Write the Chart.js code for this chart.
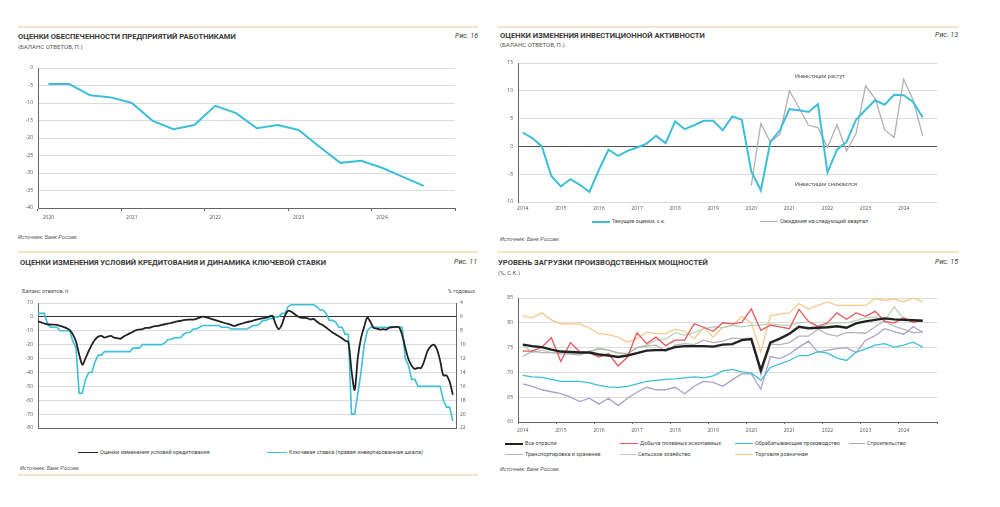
<!DOCTYPE html>
<html>
<head>
<meta charset="utf-8">
<script src="https://cdn.jsdelivr.net/npm/chart.js@4.4.1/dist/chart.umd.min.js"></script>
<style>
  body { margin: 0; background: #fff; width: 1000px; height: 507px; position: relative; overflow: hidden; font-family: Roboto, "Open Sans", sans-serif; color: #333; }
  .t { position: absolute; white-space: nowrap; line-height: 1; }
  .sep { position: absolute; height: 2px; background: #f3e6c2; }
  .title { font-size: 7.6px; font-weight: 700; color: #3a3a3a; }
  .sub { font-size: 6px; color: #555; }
  .fig { font-size: 7px; font-style: italic; color: #444; }
  .src { font-size: 5.5px; font-style: italic; color: #555; }
  .small { font-size: 5.5px; color: #555; }
  .leg { position: absolute; display: flex; align-items: center; font-size: 5.5px; color: #444; white-space: nowrap; line-height: 1; }
  .leg i { display: inline-block; width: 18px; margin-right: 2px; }
  canvas { position: absolute; }
</style>
</head>
<body>

<!-- separators -->
<div class="sep" style="left:18px;top:26px;width:460px"></div>
<div class="sep" style="left:497px;top:26px;width:462px"></div>
<div class="sep" style="left:18px;top:251px;width:460px"></div>
<div class="sep" style="left:497px;top:251px;width:462px"></div>
<div class="sep" style="left:18px;top:474px;width:460px"></div>

<!-- top left -->
<div class="t title" style="left:18px;top:33px">ОЦЕНКИ ОБЕСПЕЧЕННОСТИ ПРЕДПРИЯТИЙ РАБОТНИКАМИ</div>
<div class="t sub" style="left:18px;top:44px">(БАЛАНС ОТВЕТОВ, П.)</div>
<div class="t fig" style="right:522px;top:33px">Рис. 16</div>
<canvas id="c1" width="455" height="166" style="left:10px;top:60px"></canvas>
<div class="t src" style="left:18px;top:235px">Источник: Банк России.</div>

<!-- top right -->
<div class="t title" style="left:500px;top:32px">ОЦЕНКИ ИЗМЕНЕНИЯ ИНВЕСТИЦИОННОЙ АКТИВНОСТИ</div>
<div class="t sub" style="left:500px;top:42px">(БАЛАНС ОТВЕТОВ, П.)</div>
<div class="t fig" style="right:42px;top:32px">Рис. 13</div>
<canvas id="c2" width="457" height="163" style="left:490px;top:55px"></canvas>
<div class="t small" style="left:795px;top:74px">Инвестиции растут</div>
<div class="t small" style="left:795px;top:182px">Инвестиции снижаются</div>
<div class="leg" style="left:592px;top:219px"><i style="border-top:2px solid #3dbfd9"></i>Текущие оценки, с.к.</div>
<div class="leg" style="left:760px;top:219px"><i style="border-top:1.5px solid #b0b0b0"></i>Ожидания на следующий квартал</div>
<div class="t src" style="left:500px;top:237px">Источник: Банк России.</div>

<!-- bottom left -->
<div class="t title" style="left:20px;top:259px">ОЦЕНКИ ИЗМЕНЕНИЯ УСЛОВИЙ КРЕДИТОВАНИЯ И ДИНАМИКА КЛЮЧЕВОЙ СТАВКИ</div>
<div class="t fig" style="right:523px;top:259px">Рис. 11</div>
<div class="t small" style="left:22px;top:289px">Баланс ответов, п.</div>
<div class="t small" style="right:525px;top:289px">% годовых</div>
<canvas id="c3" width="475" height="146" style="left:10px;top:295px"></canvas>
<div class="leg" style="left:78px;top:450px"><i style="width:20px;border-top:1.8px solid #222"></i>Оценки изменения условий кредитования</div>
<div class="leg" style="left:267px;top:450px"><i style="width:20px;border-top:1.8px solid #3dbfd9"></i>Ключевая ставка (правая инвертированная шкала)</div>
<div class="t src" style="left:20px;top:466px">Источник: Банк России.</div>

<!-- bottom right -->
<div class="t title" style="left:498px;top:259px">УРОВЕНЬ ЗАГРУЗКИ ПРОИЗВОДСТВЕННЫХ МОЩНОСТЕЙ</div>
<div class="t sub" style="left:498px;top:270px">(%, С.К.)</div>
<div class="t fig" style="right:42px;top:259px">Рис. 15</div>
<canvas id="c4" width="457" height="146" style="left:490px;top:290px"></canvas>
<div class="leg" style="left:505px;top:441px"><i style="border-top:2.5px solid #222"></i>Все отрасли</div>
<div class="leg" style="left:620px;top:441px"><i style="border-top:1.5px solid #e8585f"></i>Добыча полезных ископаемых</div>
<div class="leg" style="left:735px;top:441px"><i style="border-top:1.5px solid #3dbfd9"></i>Обрабатывающие производство</div>
<div class="leg" style="left:849px;top:441px"><i style="width:16px;border-top:1.5px solid #a9a1c9"></i>Строительство</div>
<div class="leg" style="left:505px;top:452px"><i style="border-top:1.5px solid #b4b4b4"></i>Транспортировка и хранение</div>
<div class="leg" style="left:620px;top:452px"><i style="width:16px;border-top:1.5px solid #b8d3b5"></i>Сельское хозяйство</div>
<div class="leg" style="left:735px;top:452px"><i style="border-top:1.5px solid #f6c98b"></i>Торговля розничная</div>
<div class="t src" style="left:500px;top:467px">Источник: Банк России.</div>

<script>
// --- data ---
const years1 = ['2020', '2021', '2022', '2023', '2024'];
const staffing = [-4.6, -4.6, -7.8, -8.4, -10.0, -15.1, -17.5, -16.3, -10.8, -12.9, -17.2, -16.3, -17.7, -22.5, -27.1, -26.5, -28.5, -31.1, -33.7, null];

const years2 = ['2014', '2015', '2016', '2017', '2018', '2019', '2020', '2021', '2022', '2023', '2024'];
const invCurrent = [2.5, 1.5, 0, -5.3, -7.2, -5.9, -6.9, -8.2, -4.2, -0.6, -1.7, -0.8, -0.2, 0.5, 1.9, 0.6,
  4.5, 3.1, 3.8, 4.6, 4.6, 2.9, 5.4, 4.8, -4.5, -7.9, 0.8, 2.9, 6.7, 6.5, 6.2, 7.6,
  -4.7, -0.6, 0.8, 4.8, 6.6, 8.3, 7.5, 9.3, 9.2, 8.0, 5.2, null];
const invExpected = [null, null, null, null, null, null, null, null, null, null, null, null,
  null, null, null, null, null, null, null, null, null, null, null, null,
  -7.0, 4.1, 0.8, 2.2, 10.0, 7.0, 3.8, 3.4, -0.2, 3.9, -0.8, 2.3, 10.9, 8.6, 3.0, 1.6, 12.1, 8.3, 1.9, null];

const creditConditions = [-3.3, -4.0, -4.7, -5.3, -5.6, -5.6, -5.8, -6.5, -7.2, -8.1, -9.5, -12.6, -17.7,
  -27.0, -34.4, -29.8, -24.7, -20.0, -16.5, -14.2, -13.7, -14.9, -14.2, -13.7, -14.9,
  -15.3, -15.8, -14.2, -13.0, -11.9, -10.7, -9.5, -9.1, -8.8, -7.9, -7.9, -7.2,
  -6.7, -6.5, -5.8, -5.3, -4.9, -4.4, -3.7, -3.3, -2.8, -2.3, -2.1, -1.9,
  -1.9, -1.4, -0.5, 0.2, -0.2, -0.9, -1.6, -2.3, -3.0, -3.7, -4.4, -5.1,
  -5.8, -6.5, -5.8, -5.1, -4.4, -3.7, -3.3, -2.6, -1.9, -1.4, -0.9, -0.5,
  0.2, 0.9, -4.9, -8.8, -5.6, 0.9, 4.4, 3.7, 2.1, 0.5, -0.5, -0.7,
  -0.9, -1.9, -1.4, -3.3, -4.9, -6.0, -7.7, -9.5, -11.2, -12.6, -14.0, -15.3,
  -17.2, -18.1, -38.6, -52.6, -29.3, -15.3, -7.2, -0.5, -3.7, -7.9, -8.4, -9.1,
  -8.8, -9.1, -7.7, -7.4, -7.2, -7.4, -13.0, -22.3, -30.5, -35.1, -37.4, -36.7,
  -36.7, -31.6, -24.7, -21.2, -20.0, -23.5, -31.6, -42.1, -42.1, -46.7, -56.0, null];
const keyRate = [5.5, 5.5, 5.5, 7.0, 7.5, 7.5, 7.5, 8.0, 8.0, 8.0, 8.0, 9.5, 10.5,
  17, 17, 15, 14, 14, 12.5, 11.5, 11.5, 11, 11, 11, 11,
  11, 11, 11, 11, 11, 10.5, 10.5, 10.5, 10, 10, 10, 10,
  10, 10, 10, 9.75, 9.25, 9.25, 9, 9, 9, 8.5, 8.25, 8.25,
  7.75, 7.75, 7.5, 7.25, 7.25, 7.25, 7.25, 7.25, 7.25, 7.5, 7.5, 7.5,
  7.75, 7.75, 7.75, 7.75, 7.75, 7.75, 7.5, 7.25, 7.25, 7.0, 6.5, 6.5,
  6.25, 6.25, 6.0, 6.0, 5.5, 5.5, 4.5, 4.25, 4.25, 4.25, 4.25, 4.25,
  4.25, 4.25, 4.25, 4.5, 5.0, 5.0, 5.5, 6.5, 6.5, 6.75, 7.5, 7.5,
  8.5, 8.5, 20, 20, 17, 14, 10, 8, 7.5, 7.5, 7.5, 7.5,
  7.5, 7.5, 7.5, 7.5, 7.5, 7.5, 7.5, 12, 13, 15, 15, 16,
  16, 16, 16, 16, 16, 16, 16, 18, 19, 19, 21, null];

const allIndustries = [75.6, 75.3, 75.1, 74.6, 74.2, 74.1, 74.0, 74.0, 73.6, 73.4, 73.1, 73.4, 73.9, 74.4, 74.5,
  74.5, 75.1, 75.3, 75.3, 75.3, 75.2, 75.6, 75.7, 76.5, 76.7, 70.4, 76.0, 76.8, 77.8, 79.2,
  78.9, 79.0, 79.1, 79.3, 79.0, 79.9, 80.3, 80.6, 80.9, 80.7, 80.6, 80.5, 80.4, null];
const mining = [74.3, 74.3, 75.1, 77.0, 72.2, 76.0, 74.1, 74.0, 73.1, 73.8, 71.3, 73.1, 78.0, 75.8, 77.1,
  75.4, 76.5, 76.5, 79.8, 79.1, 78.3, 80.0, 79.8, 80.1, 82.8, 78.5, 79.5, 79.2, 78.8, 82.7,
  80.3, 79.3, 80.0, 82.0, 80.7, 82.0, 81.3, 82.3, 80.3, 80.0, 81.0, 80.1, 80.5, null];
const manufacturing = [69.4, 69.1, 69.0, 68.6, 68.2, 68.2, 68.2, 67.9, 67.4, 67.1, 67.0, 67.2, 67.7, 68.2, 68.4,
  68.6, 68.7, 68.9, 69.1, 68.9, 69.3, 70.3, 70.6, 70.1, 69.9, 68.4, 71.0, 71.7, 72.4, 73.4,
  73.4, 74.2, 73.9, 72.9, 72.4, 74.1, 74.7, 75.5, 75.8, 75.1, 75.5, 76.1, 75.1, null];
const construction = [67.7, 67.2, 66.5, 66.1, 65.7, 65.0, 64.1, 64.8, 63.6, 64.8, 63.3, 64.8, 66.0, 67.0, 66.5,
  66.5, 67.0, 65.7, 67.2, 68.2, 68.0, 67.2, 68.5, 69.7, 69.7, 66.6, 73.2, 72.8, 73.7, 75.1,
  76.3, 74.1, 74.5, 74.8, 75.0, 74.0, 76.5, 77.4, 78.8, 78.2, 77.7, 79.2, 78.1, null];
const transport = [73.2, 74.3, 74.0, 74.0, 73.8, 73.7, 73.5, 74.3, 74.7, 74.5, 74.0, 73.8, 75.0, 75.3, 75.5,
  74.2, 75.5, 75.8, 75.6, 76.5, 76.0, 76.3, 76.9, 76.8, 76.9, 69.5, 75.7, 75.6, 76.0, 77.3,
  77.3, 78.7, 77.7, 77.3, 78.0, 78.0, 77.9, 79.2, 80.4, 79.3, 78.7, 78.0, 78.1, null];
const agriculture = [75.5, 74.0, 74.5, 74.0, 74.0, 74.0, 73.8, 74.0, 75.0, 74.5, 73.8, 73.8, 75.0, 75.5, 76.5,
  76.7, 78.0, 77.5, 78.0, 78.8, 79.2, 79.0, 79.5, 79.2, 79.5, 79.6, 79.8, 79.6, 79.5, 80.0,
  80.2, 79.0, 79.8, 80.0, 80.0, 80.5, 81.0, 81.2, 80.5, 83.2, 80.8, 80.5, 80.5, null];
const retail = [81.4, 81.0, 82.0, 80.6, 79.8, 79.8, 79.8, 78.9, 77.8, 77.6, 77.1, 76.1, 76.8, 78.1, 77.8,
  77.8, 78.7, 78.3, 76.8, 79.1, 77.1, 79.1, 79.4, 81.3, 80.0, 74.1, 81.4, 81.8, 82.0, 83.9,
  82.8, 83.5, 84.2, 83.5, 83.5, 83.5, 83.5, 84.9, 84.5, 84.8, 84.2, 85.0, 84.2, null];

// --- helpers ---
const CYAN = '#3dbfd9', GRID = '#dcdcdc', AXIS = '#666', TICK = '#555';
const tickFont = { family: 'Open Sans', size: 5 };

const quarters = years => years.flatMap(y => [y + ' Q1', y + ' Q2', y + ' Q3', y + ' Q4']);
const labels1 = quarters(years1);
const labels2 = quarters(years2);
const labels3 = ['2013-12'];
years2.forEach(y => { for (let m = 1; m <= 12; m++) labels3.push(y + '-' + String(m).padStart(2, '0')); });

function quarterAxis(height, tickLen) {
  return {
    type: 'category', offset: true,
    afterFit(s) { s.height = height; },
    grid: {
      offset: true, drawOnChartArea: false, drawTicks: tickLen > 0, tickLength: tickLen,
      color: c => (c.index === undefined || c.index % 4 === 0) ? AXIS : 'rgba(0,0,0,0)'
    },
    border: { color: AXIS },
    ticks: {
      autoSkip: false, maxRotation: 0, padding: 4, color: TICK, font: tickFont,
      callback(v, i) { return i % 4 === 0 ? this.getLabelForValue(v).slice(0, 4) : ''; }
    }
  };
}

function valueAxis(min, max, step, width, zeroColor) {
  return {
    min: min, max: max,
    afterFit(s) { s.width = width; },
    grid: { drawTicks: false, color: c => (zeroColor && c.tick.value === 0) ? zeroColor : GRID },
    border: { color: AXIS },
    ticks: { stepSize: step, padding: 5, color: TICK, font: tickFont }
  };
}

function line(data, color, width, extra) {
  return Object.assign({ data: data, borderColor: color, borderWidth: width, pointRadius: 0, tension: 0, fill: false, spanGaps: false }, extra || {});
}

const base = {
  responsive: false, animation: false,
  plugins: { legend: { display: false }, tooltip: { enabled: false } }
};

// --- fig 16 ---
new Chart(document.getElementById('c1'), {
  type: 'line',
  data: { labels: labels1, datasets: [line(staffing, CYAN, 2)] },
  options: Object.assign({}, base, {
    layout: { padding: { top: 8, right: 10, left: 0, bottom: 0 } },
    scales: { x: quarterAxis(18, 3), y: valueAxis(-40, 0, 5, 28) }
  })
});

// --- fig 13 ---
const x2 = quarterAxis(16, 0);
x2.border = { display: false };
const y2 = valueAxis(-10, 15, 5, 28, '#555');
new Chart(document.getElementById('c2'), {
  type: 'line',
  data: { labels: labels2, datasets: [line(invCurrent, CYAN, 2), line(invExpected, '#b0b0b0', 1.3)] },
  options: Object.assign({}, base, {
    layout: { padding: { top: 8, right: 10, left: 0, bottom: 0 } },
    scales: { x: x2, y: y2 }
  })
});

// --- fig 11 ---
new Chart(document.getElementById('c3'), {
  type: 'line',
  data: {
    labels: labels3,
    datasets: [
      line(creditConditions, '#222', 1.8, { tension: 0.3, yAxisID: 'y' }),
      line(keyRate, CYAN, 1.6, { yAxisID: 'y1' })
    ]
  },
  options: Object.assign({}, base, {
    layout: { padding: { top: 4, right: 0, left: 0, bottom: 0 } },
    scales: {
      x: {
        type: 'category', offset: false,
        afterFit(s) { s.height = 13; },
        grid: { display: false },
        border: { color: AXIS },
        ticks: {
          autoSkip: false, maxRotation: 0, padding: 5, color: TICK, font: tickFont,
          callback(v) { const l = this.getLabelForValue(v); return l.endsWith('-01') ? l.slice(0, 4) : ''; }
        }
      },
      y: valueAxis(-80, 10, 10, 28, '#333'),
      y1: {
        position: 'right', reverse: true, min: 4, max: 22,
        afterFit(s) { s.width = 29; },
        grid: { drawOnChartArea: false, drawTicks: false },
        border: { color: AXIS },
        ticks: { stepSize: 2, padding: 4, color: TICK, font: tickFont }
      }
    }
  })
});

// --- fig 15 ---
new Chart(document.getElementById('c4'), {
  type: 'line',
  data: {
    labels: labels2,
    datasets: [
      line(allIndustries, '#222', 2.4),
      line(mining, '#e8585f', 1.3),
      line(manufacturing, CYAN, 1.3),
      line(construction, '#a9a1c9', 1.3),
      line(transport, '#b4b4b4', 1.3),
      line(agriculture, '#b8d3b5', 1.3),
      line(retail, '#f6c98b', 1.3)
    ]
  },
  options: Object.assign({}, base, {
    layout: { padding: { top: 8, right: 10, left: 0, bottom: 0 } },
    scales: { x: quarterAxis(14, 2), y: valueAxis(60, 85, 5, 28) }
  })
});
</script>
</body>
</html>
